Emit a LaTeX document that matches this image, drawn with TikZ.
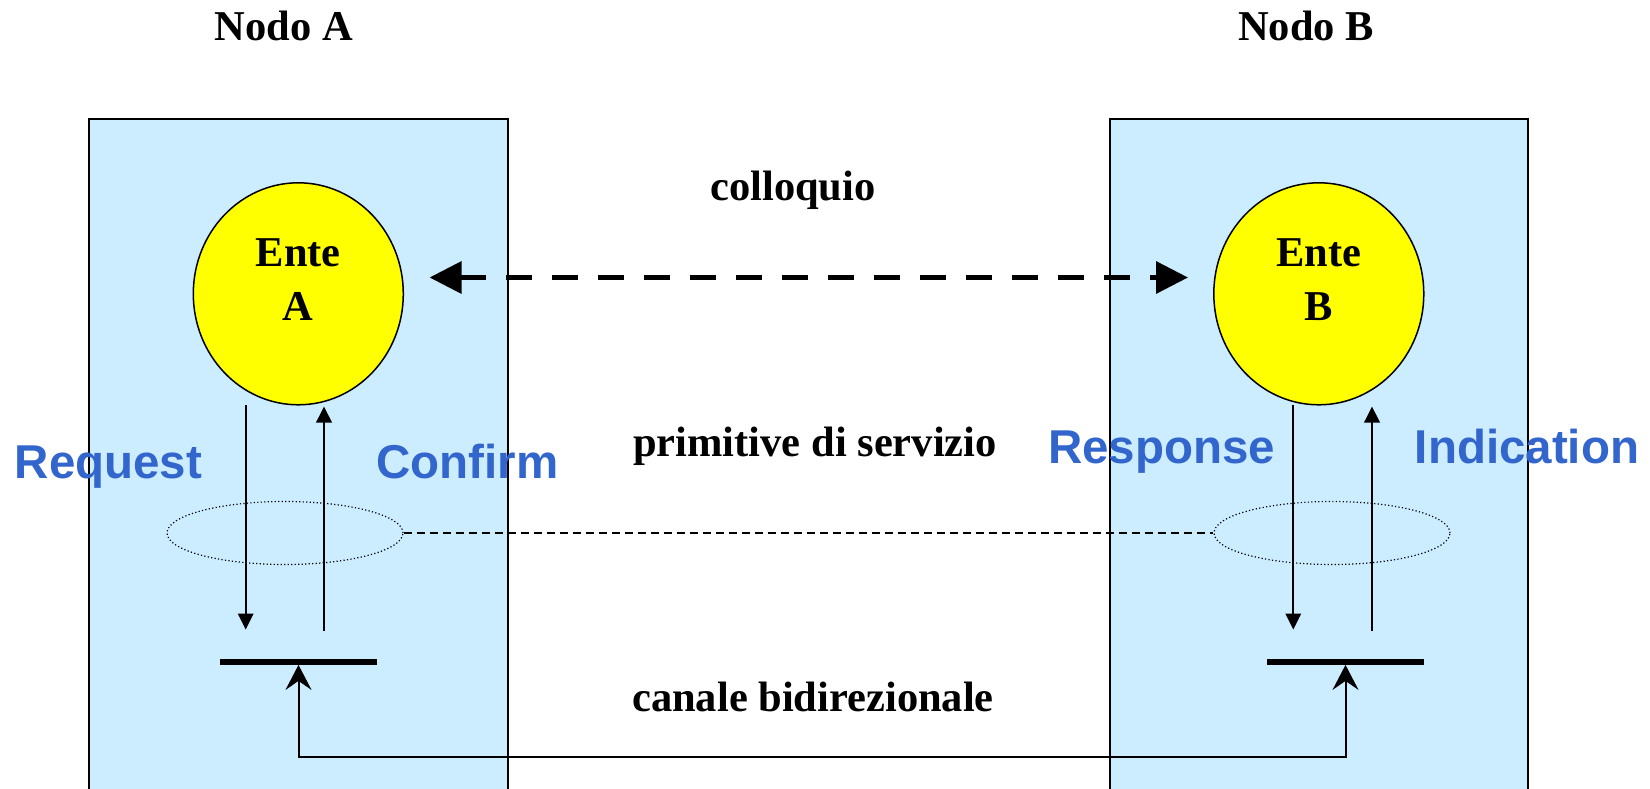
\documentclass[tikz,border=0pt]{standalone}
\usepackage{fontspec}
\setmainfont{Liberation Serif}
\newfontfamily\arialfont{Liberation Sans}
\usetikzlibrary{arrows.meta,shapes.geometric}
\definecolor{nodebg}{HTML}{CCECFF}
\definecolor{entefill}{HTML}{FFFF00}
\definecolor{primblue}{HTML}{3366CC}
\begin{document}
\begin{tikzpicture}[x=1pt,y=-1pt,
  nodebox/.style={draw=black,line width=1.8pt,fill=nodebg,rectangle,minimum width=419pt,minimum height=720pt,inner sep=0pt,anchor=north},
  ente/.style={ellipse,draw=black,line width=1.5pt,fill=entefill,minimum width=210pt,minimum height=222pt,inner sep=0pt},
  oval/.style={ellipse,draw=black,line width=1.2pt,dash pattern=on 1.2pt off 2.3pt,minimum width=236pt,minimum height=63pt,inner sep=0pt},
  bar/.style={rectangle,fill=black,minimum width=157pt,minimum height=6pt,inner sep=0pt},
  serif/.style={font=\bfseries\fontsize{42.5}{54.7}\selectfont,inner sep=0pt,anchor=base},
  entelbl/.style={font=\bfseries\fontsize{42.5}{54.7}\selectfont,inner sep=0pt,align=center,anchor=center},
  prim/.style={font=\arialfont\bfseries\fontsize{47.5}{57}\selectfont,text=primblue,inner sep=0pt,anchor=base},
  primarrow/.style={line width=2pt,-{Triangle[length=16pt,width=15.5pt]}},
  collarrow/.style={line width=4.7pt,dash pattern=on 26pt off 20pt,{Triangle[length=32pt,width=31.6pt]}-{Triangle[length=32pt,width=31.6pt]}},
  linkline/.style={line width=1.4pt,dash pattern=on 8pt off 5pt},
  chanline/.style={line width=2pt,{Stealth[length=25pt,width=26pt,inset=9pt]}-{Stealth[length=25pt,width=26pt,inset=9pt]}}
]
\useasboundingbox (0,0) rectangle (1650,789);

% node boxes
\node[nodebox] (boxA) at (298.5,118) {};
\node[nodebox,minimum width=418pt] (boxB) at (1319,118) {};

% titles
\node[serif] (titA) at (284,40.7) {Nodo A};
\node[serif] (titB) at (1306,40.7) {Nodo B};

% entities
\node[ente] (enteA) at (298.3,293.8) {};
\node[ente] (enteB) at (1318.8,293.8) {};
\node[entelbl] (enteAlbl) at (298.3,279.5) {Ente\\A};
\node[entelbl] (enteBlbl) at (1318.8,279.5) {Ente\\B};

% colloquio
\node[serif] (coll) at (793,200.7) {colloquio};
\coordinate (collL) at (429.6,277.5);
\coordinate (collR) at (1188,277.5);
\draw[collarrow] (collL) -- (collR);

% service primitive label
\node[serif] (primlbl) at (815,456) {primitive di servizio};

% dotted ovals and link
\node[oval] (ovalA) at (285,533) {};
\node[oval] (ovalB) at (1332,533) {};
\draw[linkline] (ovalA.east) -- (ovalB.west);

% primitive arrows
\coordinate (reqS) at (245.7,405);
\coordinate (reqE) at (245.7,629.5);
\coordinate (conS) at (324,631);
\coordinate (conE) at (324,406.5);
\coordinate (resS) at (1293.3,405);
\coordinate (resE) at (1293.3,629.5);
\coordinate (indS) at (1372,631);
\coordinate (indE) at (1372,406.5);
\draw[primarrow] (reqS) -- (reqE);
\draw[primarrow] (conS) -- (conE);
\draw[primarrow] (resS) -- (resE);
\draw[primarrow] (indS) -- (indE);

% bars
\node[bar] (barA) at (298.5,661.7) {};
\node[bar] (barB) at (1345.5,661.7) {};

% channel
\coordinate (chanR) at (1345.5,757.3);
\draw[chanline] (barA.south) |- (chanR) -- (barB.south);
\node[serif] (chanlbl) at (813,711.7) {canale bidirezionale};

% primitive labels
\node[prim] (req) at (108.5,478) {Request};
\node[prim] (conf) at (467.5,478) {Confirm};
\node[prim] (resp) at (1161.5,463) {Response};
\node[prim] (ind) at (1527,463) {Indication};
\end{tikzpicture}
\end{document}
